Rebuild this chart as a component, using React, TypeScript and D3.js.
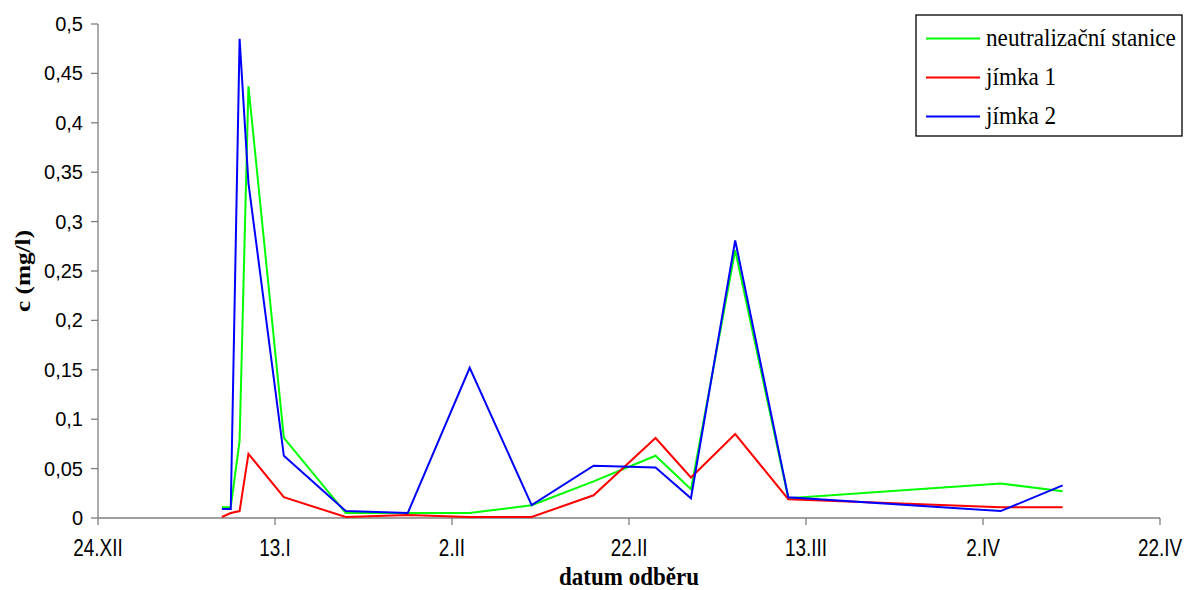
import React from "react";
import * as d3 from "d3";

// Sampling dates (leap year, so 22.II + 20 days = 13.III)
const sampleDates = [
  "2004-01-07", "2004-01-08", "2004-01-09", "2004-01-10", "2004-01-14",
  "2004-01-21", "2004-01-28", "2004-02-04", "2004-02-11", "2004-02-18",
  "2004-02-25", "2004-02-29", "2004-03-05", "2004-03-11", "2004-04-04",
  "2004-04-11",
];

// Concentrations c (mg/l)
const neutralizacniStanice = [
  0.011, 0.011, 0.078, 0.437, 0.081, 0.005, 0.005, 0.005, 0.013, 0.037,
  0.063, 0.029, 0.271, 0.020, 0.035, 0.027,
];
const jimka1 = [
  0.001, 0.005, 0.007, 0.065, 0.021, 0.001, 0.003, 0.001, 0.001, 0.023,
  0.081, 0.041, 0.085, 0.019, 0.011, 0.011,
];
const jimka2 = [
  0.009, 0.009, 0.485, 0.339, 0.063, 0.007, 0.005, 0.152, 0.013, 0.053,
  0.051, 0.020, 0.281, 0.021, 0.007, 0.033,
];

const seriesNames = ["neutralizační stanice", "jímka 1", "jímka 2"];
const seriesColors = ["#00ff00", "#ff0000", "#0000ff"];

const xTickDates = [
  "2003-12-24", "2004-01-13", "2004-02-02", "2004-02-22", "2004-03-13",
  "2004-04-02", "2004-04-22",
];
const yTicks = [0, 0.05, 0.1, 0.15, 0.2, 0.25, 0.3, 0.35, 0.4, 0.45, 0.5];
const romanMonths = ["I", "II", "III", "IV", "V", "VI", "VII", "VIII", "IX", "X", "XI", "XII"];

const W = 1187;
const H = 590;
const plot = { left: 98, right: 1160, top: 24, bottom: 518 };

const parse = d3.utcParse("%Y-%m-%d");

export default function App() {
  const dates = sampleDates.map((s) => parse(s) as Date);
  const tickDates = xTickDates.map((s) => parse(s) as Date);

  const x = d3
    .scaleUtc()
    .domain([tickDates[0], tickDates[tickDates.length - 1]])
    .range([plot.left, plot.right]);
  const y = d3.scaleLinear().domain([0, 0.5]).range([plot.bottom, plot.top]);

  const fmtY = (v: number) => (v === 0 ? "0" : String(+v.toFixed(2)).replace(".", ","));
  const fmtX = (d: Date) => `${d.getUTCDate()}.${romanMonths[d.getUTCMonth()]}`;

  const series = [neutralizacniStanice, jimka1, jimka2];
  const line = d3
    .line<number>()
    .x((_, i) => x(dates[i]))
    .y((v) => y(v));

  const axisColor = "#7f7f7f";
  const sans = "'Liberation Sans', Arial, sans-serif";
  const serif = "'Liberation Serif', 'Times New Roman', serif";

  const legend = { x: 916, y: 15, w: 266, h: 121 };

  return (
    <svg
      width={W}
      height={H}
      style={{ position: "absolute", left: 0, top: 0, background: "#fff" }}
    >
      {/* y axis */}
      <line x1={plot.left} x2={plot.left} y1={plot.top} y2={plot.bottom} stroke={axisColor} strokeWidth={1.3} />
      {yTicks.map((t) => (
        <g key={t}>
          <line x1={plot.left - 7} x2={plot.left} y1={y(t)} y2={y(t)} stroke={axisColor} strokeWidth={1.3} />
          <text x={plot.left - 15} y={y(t) + 7} textAnchor="end" fontFamily={sans} fontSize={20} fill="#000">
            {fmtY(t)}
          </text>
        </g>
      ))}

      {/* x axis */}
      <line x1={plot.left} x2={plot.right} y1={plot.bottom} y2={plot.bottom} stroke={axisColor} strokeWidth={1.3} />
      {tickDates.map((d) => (
        <g key={d.toISOString()}>
          <line x1={x(d)} x2={x(d)} y1={plot.bottom} y2={plot.bottom + 7} stroke={axisColor} strokeWidth={1.3} />
          <g transform={`translate(${x(d)},556) scale(0.9,1.15)`}>
            <text x={0} y={0} textAnchor="middle" fontFamily={sans} fontSize={21} fill="#000">
              {fmtX(d)}
            </text>
          </g>
        </g>
      ))}

      {/* axis titles */}
      <g transform="translate(629,585) scale(1,1.1)">
        <text textAnchor="middle" fontFamily={serif} fontWeight="bold" fontSize={23} fill="#000">
          datum odběru
        </text>
      </g>
      <g transform="translate(30,271) rotate(-90) scale(1.15,1)">
        <text textAnchor="middle" fontFamily={serif} fontWeight="bold" fontSize={22} fill="#000">
          c (mg/l)
        </text>
      </g>

      {/* series */}
      {series.map((vals, i) => (
        <path
          key={seriesNames[i]}
          d={line(vals) || ""}
          fill="none"
          stroke={seriesColors[i]}
          strokeWidth={2}
          strokeLinejoin="miter"
        />
      ))}

      {/* legend */}
      <rect x={legend.x} y={legend.y} width={legend.w} height={legend.h} fill="#fff" stroke="#000" strokeWidth={1.3} />
      {seriesNames.map((name, i) => {
        const cy = 38.5 + i * 39;
        return (
          <g key={name}>
            <line x1={926} x2={980} y1={cy} y2={cy} stroke={seriesColors[i]} strokeWidth={2} />
            <g transform={`translate(986,${cy + 7}) scale(1,1.1)`}>
              <text fontFamily={serif} fontSize={23.2} fill="#000">
                {name}
              </text>
            </g>
          </g>
        );
      })}
    </svg>
  );
}
